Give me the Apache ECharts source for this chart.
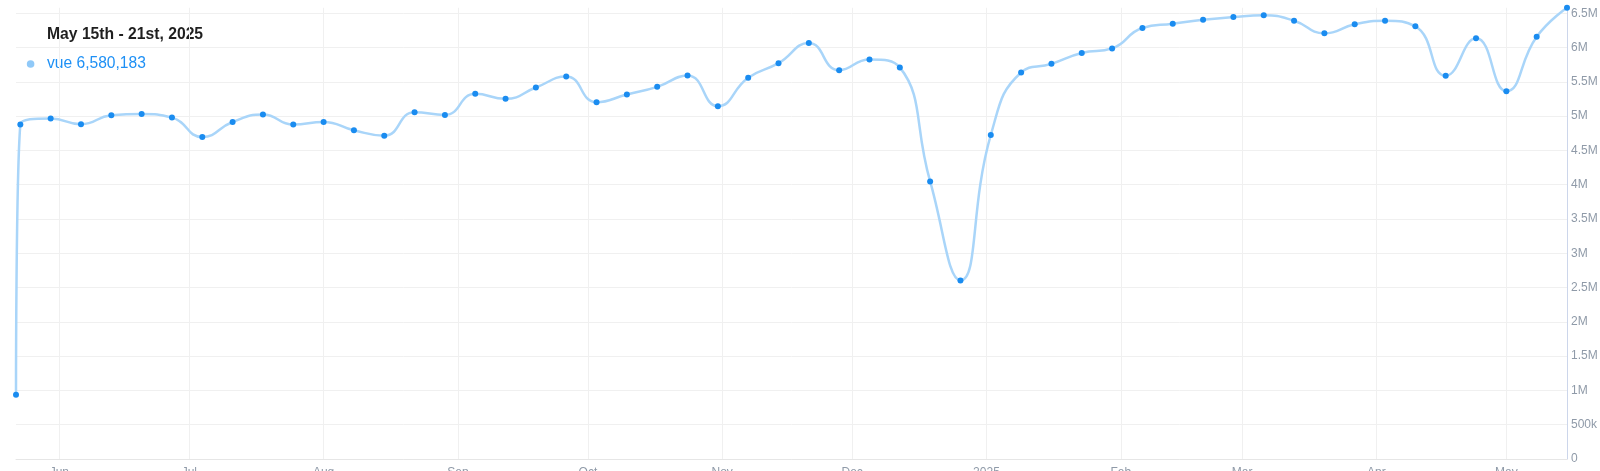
<!DOCTYPE html>
<html>
<head>
<meta charset="utf-8">
<script src="https://cdn.jsdelivr.net/npm/echarts@6/dist/echarts.min.js"></script>
<style>
  html, body { margin: 0; padding: 0; background: #ffffff; }
  #chart { width: 1600px; height: 471px; }
</style>
</head>
<body>
<div id="chart"></div>
<script>
// ---- Data ----
const seriesName = 'vue';
const weekLabel = 'May 15th - 21st, 2025';
const dates = [
  '2024-05-22', '2024-05-23', '2024-05-30', '2024-06-06', '2024-06-13', '2024-06-20', '2024-06-27',
  '2024-07-04', '2024-07-11', '2024-07-18', '2024-07-25', '2024-08-01', '2024-08-08', '2024-08-15',
  '2024-08-22', '2024-08-29', '2024-09-05', '2024-09-12', '2024-09-19', '2024-09-26', '2024-10-03',
  '2024-10-10', '2024-10-17', '2024-10-24', '2024-10-31', '2024-11-07', '2024-11-14', '2024-11-21',
  '2024-11-28', '2024-12-05', '2024-12-12', '2024-12-19', '2024-12-26', '2025-01-02', '2025-01-09',
  '2025-01-16', '2025-01-23', '2025-01-30', '2025-02-06', '2025-02-13', '2025-02-20', '2025-02-27',
  '2025-03-06', '2025-03-13', '2025-03-20', '2025-03-27', '2025-04-03', '2025-04-10', '2025-04-17',
  '2025-04-24', '2025-05-01', '2025-05-08', '2025-05-15'
];
const downloads = [
  936000, 4877000, 4965000, 4882000, 5013000, 5032000, 4979000,
  4696000, 4915000, 5023000, 4877000, 4915000, 4794000, 4716000,
  5057000, 5018000, 5325000, 5252000, 5418000, 5579000, 5203000,
  5316000, 5427000, 5594000, 5145000, 5559000, 5773000, 6066000,
  5671000, 5827000, 5711000, 4048000, 2605000, 4725000, 5637000,
  5763000, 5920000, 5988000, 6285000, 6348000, 6406000, 6446000,
  6470000, 6392000, 6208000, 6339000, 6392000, 6310000, 5588000,
  6135000, 5364000, 6158000, 6580183
];
const yTickStep = 500000;

// ---- Chart ----
const FONT = '"Liberation Sans", Arial, Helvetica, sans-serif';
const chart = echarts.init(document.getElementById('chart'), null, { renderer: 'canvas' });

const seriesData = dates.map((d, i) => [d, downloads[i]]);
const lastValue = downloads[downloads.length - 1];
const yMax = Math.max.apply(null, downloads);

function fmtY(v) {
  if (v === 0) return '0';
  if (v % yTickStep !== 0) return '';
  if (v >= 1000000) return (v / 1000000) + 'M';
  return (v / 1000) + 'k';
}

const option = {
  backgroundColor: '#ffffff',
  animation: false,
  textStyle: { fontFamily: FONT },
  grid: { left: 16, right: 33, top: 7.8, bottom: 12, containLabel: false, outerBoundsMode: 'none' },
  xAxis: {
    type: 'time',
    min: dates[0],
    max: dates[dates.length - 1],
    splitNumber: 12,
    minInterval: 28 * 24 * 3600 * 1000,
    axisLine: { show: true, lineStyle: { color: '#e6e6e6', width: 1 } },
    axisTick: { show: false },
    splitLine: { show: true, showMinLine: false, lineStyle: { color: '#f0f0f0', width: 1 } },
    axisLabel: {
      color: '#8f9aa8', fontSize: 12, margin: 8, fontFamily: FONT,
      showMinLabel: false, showMaxLabel: false,
      formatter: { year: '{yyyy}', month: '{MMM}', day: '' }
    }
  },
  yAxis: {
    type: 'value',
    position: 'right',
    min: 0,
    max: yMax,
    interval: yTickStep,
    axisLine: { show: true, lineStyle: { color: '#ccd6eb', width: 1 } },
    axisTick: { show: false },
    splitLine: { show: true, showMaxLine: false, lineStyle: { color: '#f0f0f0', width: 1 } },
    axisLabel: {
      color: '#8f9aa8', fontSize: 12, margin: 4, fontFamily: FONT,
      showMaxLabel: false,
      formatter: fmtY
    }
  },
  series: [{
    name: seriesName,
    type: 'line',
    data: seriesData,
    smooth: 0.5,
    showSymbol: true,
    symbol: 'circle',
    symbolSize: 6,
    clip: false,
    lineStyle: { color: '#a9d5f9', width: 2.5 },
    itemStyle: { color: '#1a8cf0', borderWidth: 0 }
  }],
  graphic: [
    {
      type: 'text', x: 47, y: 34.7,
      style: { text: weekLabel, font: 'bold 15.7px ' + FONT, fill: '#1f1f1f', verticalAlign: 'middle' }
    },
    {
      type: 'circle', shape: { cx: 30.6, cy: 64, r: 3.8 },
      style: { fill: '#90c9f8' }
    },
    {
      type: 'text', x: 47, y: 63.3,
      style: { text: seriesName + ' ' + lastValue.toLocaleString('en-US'), font: '15.6px ' + FONT, fill: '#1e90f5', verticalAlign: 'middle' }
    }
  ]
};

chart.setOption(option);
</script>
</body>
</html>
